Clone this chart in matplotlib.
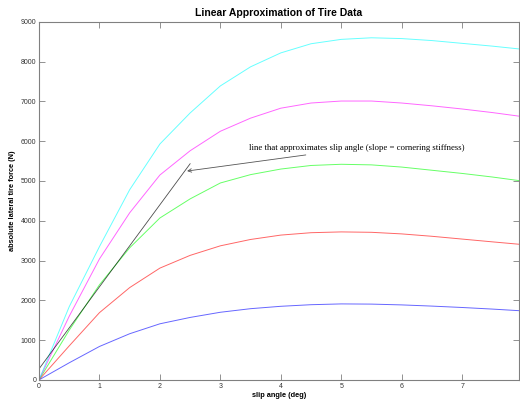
import numpy as np
import matplotlib
matplotlib.use("Agg")
import matplotlib.pyplot as plt

# slip angle samples (deg)
slip = [0, 0.5, 1, 1.5, 2, 2.5, 3, 3.5, 4, 4.5, 5, 5.5, 6, 6.5, 7, 7.5, 7.94]

# lateral force for each normal load (N)
force_blue = [0, 430, 840, 1160, 1410, 1570, 1700, 1790, 1850, 1890, 1910, 1905, 1885, 1855, 1820, 1780, 1740]
force_red = [0, 855, 1690, 2320, 2810, 3130, 3370, 3530, 3640, 3700, 3720, 3710, 3670, 3610, 3540, 3470, 3410]
force_green = [0, 1250, 2390, 3320, 4070, 4550, 4950, 5160, 5300, 5390, 5420, 5405, 5350, 5270, 5190, 5100, 5010]
force_magenta = [0, 1600, 3040, 4200, 5150, 5760, 6250, 6580, 6830, 6960, 7010, 7010, 6960, 6890, 6810, 6720, 6630]
force_cyan = [0, 1840, 3350, 4780, 5930, 6710, 7390, 7870, 8220, 8450, 8560, 8600, 8580, 8530, 8460, 8390, 8320]

# linear fit (cornering stiffness line)
fit_x = [0, 2.5]
fit_slope = 2063
fit_intercept = 276

series = [
    (force_blue, "#0000ff"),
    (force_red, "#ff0000"),
    (force_green, "#00ff00"),
    (force_magenta, "#ff00ff"),
    (force_cyan, "#00ffff"),
]

fig = plt.figure(figsize=(5.2, 4.05), dpi=100)
ax = fig.add_axes([0.075, 0.062, 0.923, 0.884])

for vals, col in series:
    ax.plot(slip, vals, color=col, lw=0.7, alpha=0.6)

fx = np.array(fit_x)
ax.plot(fx, fit_slope * fx + fit_intercept, color="k", lw=0.6, alpha=0.7)

ax.annotate("line that approximates slip angle (slope = cornering stiffness)",
            xy=(2.45, 5250), xytext=(3.48, 5830),
            fontsize=6.3, family="Liberation Serif", va="center",
            arrowprops=dict(arrowstyle="->", color="#555555", lw=0.6,
                            shrinkA=1, shrinkB=0))

ax.set_xlim(0, 7.94)
ax.set_ylim(0, 9000)
ax.set_xticks(range(0, 8))
ax.set_yticks(range(0, 9001, 1000))
ax.tick_params(direction="in", length=4, width=0.6, top=True, right=True,
               labelsize=5, colors="#808080", labelcolor="#333333", pad=2)
for s in ax.spines.values():
    s.set_color("#808080")
    s.set_linewidth(0.8)

ax.set_title("Linear Approximation of Tire Data", fontsize=7.5, fontweight="bold",
             family="Liberation Sans", pad=4)
ax.set_xlabel("slip angle (deg)", fontsize=5.3, fontweight="bold",
              family="Liberation Sans", labelpad=2)
ax.set_ylabel("absolute lateral tire force (N)", fontsize=5.3, fontweight="bold",
              family="Liberation Sans", labelpad=3)
for lab in ax.get_xticklabels() + ax.get_yticklabels():
    lab.set_family("Liberation Sans")

fig.savefig("out.png", dpi=100)
